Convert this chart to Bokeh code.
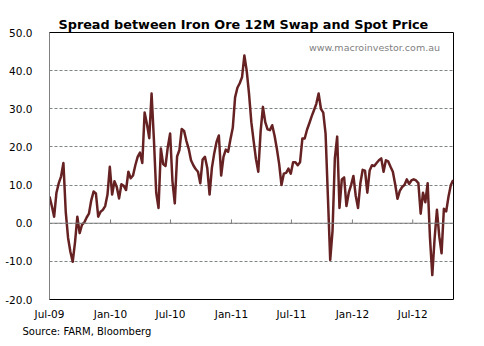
import pandas as pd
from datetime import datetime
from bokeh.plotting import figure
from bokeh.models import (Range1d, FixedTicker, NumeralTickFormatter, DatetimeTickFormatter,
                          Span, Label, Title, ColumnDataSource)
from bokeh.embed import file_html
from bokeh.resources import INLINE

start_date = "2009-07-01"
spread = [
    7, 4.5, 1.7, 8, 10.5, 12.3, 15.8, 3, -3.8, -7.5,
    -10.1, -5, 1.7, -2.6, -0.4, 0.2, 1.5, 2.5, 6, 8.3,
    7.8, 1.7, 3, 3.5, 4.5, 7.5, 14.8, 7.5, 11, 9.5,
    6.5, 10.2, 9.8, 8.7, 13.5, 11.8, 12.5, 15.2, 17.4, 18.5,
    15.8, 29, 26, 22.3, 34, 22, 8, 4, 19.6, 15.5,
    15, 20, 23.5, 11, 5.2, 17.5, 19.2, 24.7, 24.2, 21.6,
    19.5, 16.5, 15.2, 14.2, 13.5, 10.5, 16.7, 17.4, 14.5, 7.5,
    14.5, 18.3, 21.3, 23, 12.5, 17.4, 19.3, 18.7, 22, 25,
    33, 35.5, 36.7, 38.3, 44, 40, 34, 26.5, 21.5, 16.8,
    13.5, 24, 30.5, 26.5, 24.6, 24.4, 25.7, 23, 19.5, 15.5,
    10, 13, 13.2, 14.3, 13, 16, 16, 15.2, 16, 22.2,
    22.2, 24.5, 26.2, 28, 29.6, 31.3, 34, 30, 29, 23.5,
    7, -9.6, -2, 17, 22.7, 4, 11.5, 12, 4.5, 8,
    10, 12.4, 7.2, 4, 10.5, 14, 13.8, 8, 13.8, 15.2,
    15, 15.8, 16.5, 17, 13.5, 16.5, 16.2, 14.8, 13.5, 10.2,
    6.4, 8.5, 9.5, 10, 11.5, 10.3, 11.2, 11.5, 11.2, 10.5,
    2.5, 8, 5.5, 10.5, -3.8, -13.6, -4, 3.5, -3.4, -7.9,
    3.8, 3.1, 7, 10, 11.3,
]
dates = pd.date_range(start_date, periods=len(spread), freq="7D")

tick_dates = ["2009-07-01", "2010-01-01", "2010-07-01", "2011-01-01",
              "2011-07-01", "2012-01-01", "2012-07-01"]
y_ticks = [-20, -10, 0, 10, 20, 30, 40, 50]

title_text = "Spread between Iron Ore 12M Swap and Spot Price"
watermark_text = "www.macroinvestor.com.au"
source_text = "Source: FARM, Bloomberg"

# ---- figure ----
FONT = "DejaVu Sans"
x_start = datetime(2009, 7, 1)
x_end = datetime(2012, 11, 1)

p = figure(width=484, height=346, x_axis_type="datetime",
           x_range=Range1d(x_start, x_end), y_range=Range1d(-20, 50),
           output_backend="svg", toolbar_location=None,
           min_border_left=49, min_border_right=31,
           min_border_top=32, min_border_bottom=47)
p.background_fill_color = "white"
p.border_fill_color = "white"
p.outline_line_color = "black"
p.outline_line_width = 1

p.title.text = title_text
p.title.align = "left"
p.title.offset = 9
p.title.text_font = FONT
p.title.text_font_style = "bold"
p.title.text_font_size = "12.8px"
p.title.text_color = "black"
p.title.standoff = 2

p.add_layout(Title(text=source_text, align="left", offset=-27, text_font=FONT,
                   text_font_style="normal", text_font_size="10px",
                   text_color="black", standoff=2), "below")

tick_ms = [pd.Timestamp(d).value / 1e6 for d in tick_dates]

# x axis
xa = p.xaxis[0]
xa.ticker = FixedTicker(ticks=tick_ms)
fmt = "%b-%y"
xa.formatter = DatetimeTickFormatter(days=fmt, months=fmt, years=fmt, hours=fmt,
                                     minutes=fmt, seconds=fmt, milliseconds=fmt,
                                     microseconds=fmt, minsec=fmt, hourmin=fmt)
xa.axis_line_color = None
xa.major_tick_line_color = None
xa.minor_tick_line_color = None
xa.major_label_text_font = FONT
xa.major_label_text_font_size = "10.5px"
xa.major_label_text_color = "black"
xa.major_label_standoff = 2

# y axis
ya = p.yaxis[0]
ya.ticker = FixedTicker(ticks=y_ticks)
ya.formatter = NumeralTickFormatter(format="0.0")
ya.axis_line_color = "#808080"
ya.major_tick_line_color = None
ya.minor_tick_line_color = None
ya.major_label_text_font = FONT
ya.major_label_text_font_size = "10.5px"
ya.major_label_text_color = "black"
ya.major_label_standoff = 11

# grids
p.xgrid.visible = False
p.ygrid.ticker = FixedTicker(ticks=y_ticks)
p.ygrid.grid_line_color = "#7f8585"
p.ygrid.grid_line_dash = "3 2"
p.ygrid.grid_line_width = 1

# zero line with half-year tick marks
p.add_layout(Span(location=0, dimension="width", line_color="#808080", line_width=1))
tick_src = ColumnDataSource(dict(x=tick_ms[1:], y0=[0] * (len(tick_ms) - 1),
                                 y1=[1.0] * (len(tick_ms) - 1)))
p.segment(x0="x", y0="y0", x1="x", y1="y1", source=tick_src,
          line_color="#808080", line_width=1)

# series
p.line(dates, spread, line_color="#662222", line_width=2.5, line_join="round")

# watermark (screen units relative to the frame's bottom-left)
p.add_layout(Label(x=390.5, y=252.5, x_units="screen", y_units="screen", text=watermark_text,
                   text_font=FONT, text_font_size="9.5px", text_align="right",
                   text_baseline="alphabetic", text_color="#7f7f7f"))

open("out.html", "w").write(file_html(p, INLINE))
